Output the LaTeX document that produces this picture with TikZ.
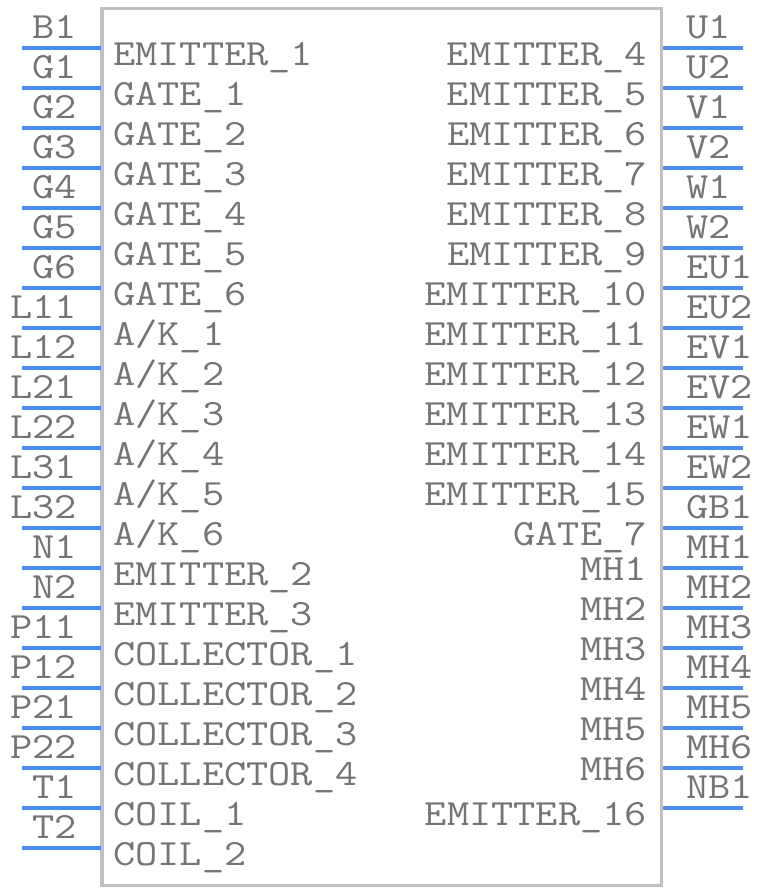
\documentclass[tikz,border=0pt]{standalone}
\usepackage{fontspec}
\usetikzlibrary{positioning,calc}
\definecolor{pinblue}{RGB}{74,141,239}
\definecolor{bodygray}{RGB}{192,192,192}
\definecolor{textgray}{RGB}{116,116,116}
\tikzset{
  body/.style={draw=bodygray, line width=3.5pt},
  pin/.style={draw=pinblue, line width=3.5pt},
  pinname/.style={inner sep=0pt, text=textgray, transform shape, xscale=1.165,
    font=\ttfamily\fontsize{37}{37}\selectfont},
  signame/.style={pinname}%,
  % signame/.style={pinname, text=black}
}

\begin{document}
\begin{tikzpicture}[x=1pt, y=-1pt]
    \useasboundingbox (0,0) rectangle (764,892);

    \draw[body] (102,8.5) rectangle (661.5,885.5);

    % left pins
    \foreach \pname/\sname [count=\i from 0] in {B1/EMITTER\_1, G1/GATE\_1, G2/GATE\_2,
      G3/GATE\_3, G4/GATE\_4, G5/GATE\_5, G6/GATE\_6, L11/{A/K\_1}, L12/{A/K\_2},
      L21/{A/K\_3}, L22/{A/K\_4}, L31/{A/K\_5}, L32/{A/K\_6}, N1/EMITTER\_2,
      N2/EMITTER\_3, P11/COLLECTOR\_1, P12/COLLECTOR\_2, P21/COLLECTOR\_3,
      P22/COLLECTOR\_4, T1/COIL\_1, T2/COIL\_2} {
      \coordinate (lo\i) at (22,48+40*\i);
      \coordinate (li\i) at (100.5,48+40*\i);
      \draw[pin] (lo\i) -- (li\i);
      \node[pinname, anchor=base east] (lname\i) at (77,38+40*\i) {\pname};
      \node[signame, anchor=base west] (lsig\i) at (113,65+40*\i) {\sname};
    }

    % right pins
    \foreach \pname/\sname/\dy [count=\i from 0] in {U1/EMITTER\_4/17, U2/EMITTER\_5/17,
      V1/EMITTER\_6/17, V2/EMITTER\_7/17, W1/EMITTER\_8/17, W2/EMITTER\_9/17,
      EU1/EMITTER\_10/17, EU2/EMITTER\_11/17, EV1/EMITTER\_12/17, EV2/EMITTER\_13/17,
      EW1/EMITTER\_14/17, EW2/EMITTER\_15/17, GB1/GATE\_7/17, MH1/MH1/12, MH2/MH2/12,
      MH3/MH3/12, MH4/MH4/12, MH5/MH5/12, MH6/MH6/12, NB1/EMITTER\_16/17} {
      \coordinate (ri\i) at (663,48+40*\i);
      \coordinate (ro\i) at (743,48+40*\i);
      \draw[pin] (ri\i) -- (ro\i);
      \node[pinname, anchor=base west] (rname\i) at (686,38+40*\i) {\pname};
      \node[signame, anchor=base east] (rsig\i) at (647,48+\dy+40*\i) {\sname};
    }

  \end{tikzpicture}
\end{document}
